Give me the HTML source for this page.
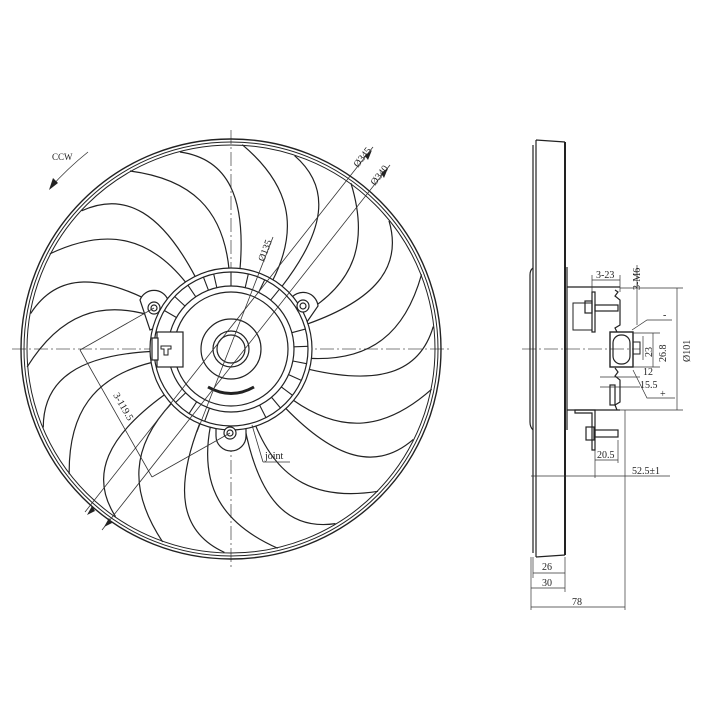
<!DOCTYPE html>
<html><head><style>
html,body{margin:0;padding:0;background:#fff;}
svg{display:block;}
text{font-family:"Liberation Serif",serif;fill:#222;}
</style></head><body>
<svg width="709" height="709" viewBox="0 0 709 709" xmlns="http://www.w3.org/2000/svg">
<rect width="709" height="709" fill="#fff"/>
<!-- centerlines -->
<g stroke="#555" stroke-width="0.8" stroke-dasharray="14,3,2,3" fill="none">
<line x1="12" y1="349" x2="452" y2="349"/>
<line x1="231" y1="130" x2="231" y2="568"/>
<line x1="522" y1="349" x2="640" y2="349"/>
</g>
<!-- rim -->
<g fill="none" stroke="#222">
<circle cx="231" cy="349" r="210" stroke-width="1.4"/>
<circle cx="231" cy="349" r="207" stroke-width="1"/>
<circle cx="231" cy="349" r="204" stroke-width="1"/>
</g>
<!-- blades -->
<g fill="none" stroke="#222" stroke-width="1.2" transform="translate(231,349)">
<g id="bl">
<path d="M9,-80 C15,-150 -2,-190 -51,-197"/>
<path d="M-2,-80 C-8,-140 -40,-170 -101,-178"/>
</g>
<use href="#bl" transform="rotate(32.727)"/>
<use href="#bl" transform="rotate(65.454)"/>
<use href="#bl" transform="rotate(98.181)"/>
<use href="#bl" transform="rotate(130.909)"/>
<use href="#bl" transform="rotate(163.636)"/>
<use href="#bl" transform="rotate(196.363)"/>
<use href="#bl" transform="rotate(229.09)"/>
<use href="#bl" transform="rotate(261.818)"/>
<use href="#bl" transform="rotate(294.545)"/>
<use href="#bl" transform="rotate(327.272)"/>
</g>
<!-- lugs -->
<g stroke="#222" stroke-width="1.2" fill="#fff">
<path d="M140,300 A15,15 0 0 1 168,300 L178,318 L150,330 Z"/>
<path d="M290,300 A15,15 0 0 1 318,306 L300,332 L280,318 Z"/>
<path d="M216,420 L216,436 A15,15 0 0 0 246,436 L246,420 Z"/>
</g>
<!-- hub -->
<g fill="none" stroke="#222" stroke-width="1.2">
<circle cx="231" cy="349" r="81" fill="#fff"/>
<circle cx="231" cy="349" r="77"/>
<circle cx="231" cy="349" r="63"/>
<circle cx="231" cy="349" r="57"/>
<circle cx="231" cy="349" r="30"/>
<circle cx="231" cy="349" r="18"/>
<circle cx="231" cy="349" r="14"/>
<path d="M208,387 Q231,400 254,387" stroke-width="3"/>
</g>
<g stroke="#222" stroke-width="1.1" transform="translate(231,349)">
<g id="rb"><line x1="0" y1="-63" x2="0" y2="-77"/></g>
<use href="#rb" transform="rotate(13)"/><use href="#rb" transform="rotate(26)"/><use href="#rb" transform="rotate(39)"/>
<use href="#rb" transform="rotate(75)"/><use href="#rb" transform="rotate(88)"/><use href="#rb" transform="rotate(101)"/><use href="#rb" transform="rotate(114)"/>
<use href="#rb" transform="rotate(127)"/><use href="#rb" transform="rotate(140)"/><use href="#rb" transform="rotate(153)"/>
<use href="#rb" transform="rotate(200)"/><use href="#rb" transform="rotate(213)"/><use href="#rb" transform="rotate(226)"/>
<use href="#rb" transform="rotate(300)"/><use href="#rb" transform="rotate(313)"/><use href="#rb" transform="rotate(326)"/><use href="#rb" transform="rotate(339)"/><use href="#rb" transform="rotate(-13)"/>
</g>
<g stroke="#222" stroke-width="1.2" fill="#fff">
<circle cx="154" cy="308" r="6"/><circle cx="154" cy="308" r="3"/>
<circle cx="303" cy="306" r="6"/><circle cx="303" cy="306" r="3"/>
<circle cx="230" cy="433" r="6"/><circle cx="230" cy="433" r="3"/>
<rect x="157" y="332" width="26" height="35"/>
<rect x="152" y="338" width="6" height="22"/>
<path d="M161,346 h10 v3 h-3 v6 h-4 v-6 h-3 z" stroke-width="1"/>
</g>
<!-- dims on front -->
<g stroke="#333" stroke-width="0.8" fill="none">
<line x1="373" y1="147" x2="85" y2="512"/>
<line x1="390" y1="165" x2="102" y2="530"/>
<line x1="273" y1="237" x2="197" y2="432"/>
<line x1="154" y1="308" x2="80" y2="350"/>
<line x1="230" y1="433" x2="152" y2="477"/>
<line x1="80" y1="350" x2="152" y2="477"/>
<line x1="252" y1="425" x2="263" y2="462"/><line x1="263" y1="462" x2="290" y2="462"/>
<path d="M88,152 Q68,168 50,188"/>
</g>
<g fill="#222">
<polygon points="49,190 53,178 58,183"/>
<polygon points="87,515 92,506 95,511"/>
<polygon points="104,527 109,518 112,523"/>
<polygon points="372,150 365,156 368,160"/>
<polygon points="388,168 381,173 384,178"/>
</g>
<text x="52" y="160" font-size="9">CCW</text>
<text x="265" y="459" font-size="10">joint</text>
<text font-size="10" transform="translate(358,168) rotate(-52)">Ø345</text>
<text font-size="10" transform="translate(375,186) rotate(-52)">Ø340</text>
<text font-size="10" transform="translate(264,262) rotate(-69)">Ø135</text>
<text font-size="10" transform="translate(113,395) rotate(60)">3-119.5</text>
<!-- side view -->
<g fill="none" stroke="#222" stroke-width="1.2">
<path d="M533,145 L533,553 M536,140 L536,557 M536,140 L565,142 M536,557 L565,555"/>
<line x1="565" y1="142" x2="565" y2="555" stroke-width="2"/>
<path d="M530,275 Q530,270 533,268 M530,275 L530,422 Q530,427 533,430"/>
<line x1="567" y1="267" x2="567" y2="430"/>
<line x1="567" y1="287" x2="620" y2="287"/>
<line x1="567" y1="410" x2="620" y2="410"/>
<path d="M615,290 L618,292 L615,296 L620,300 L620,325 L615,328 L617,332 M615,368 L618,372 L615,376 L620,380 L620,402 L615,405 L617,410"/>
<path d="M573,303 L592,303 L592,330 L573,330 Z" stroke-width="1"/>
<rect x="592" y="292" width="3" height="40"/>
<rect x="595" y="305" width="23" height="6"/>
<rect x="585" y="301" width="7" height="12"/>
<rect x="610" y="332" width="23" height="35" stroke-width="1.4"/>
<rect x="613" y="335" width="17" height="29" rx="8"/>
<rect x="633" y="342" width="7" height="12" stroke-width="1"/>
<path d="M575,410 L595,410 L595,450 L592,450 L592,413 L575,413 Z"/>
<rect x="595" y="430" width="23" height="7"/>
<rect x="586" y="427" width="8" height="13"/>
<rect x="610" y="385" width="5" height="20"/>
</g>
<g stroke="#333" stroke-width="0.7" fill="none">
<line x1="620" y1="288" x2="683" y2="288"/><line x1="620" y1="410" x2="683" y2="410"/>
<line x1="677" y1="288" x2="677" y2="410"/>
<line x1="592" y1="280" x2="620" y2="280"/><line x1="592" y1="275" x2="592" y2="292"/><line x1="620" y1="275" x2="620" y2="292"/>
<line x1="637" y1="265" x2="637" y2="325"/>
<line x1="633" y1="333" x2="660" y2="333"/><line x1="633" y1="367" x2="660" y2="367"/>
<line x1="643" y1="336" x2="643" y2="360"/><line x1="653" y1="333" x2="653" y2="367"/>
<path d="M632,330 L647,320 L672,320 M633,370 L647,398 L675,398"/>
<line x1="600" y1="377" x2="640" y2="377"/><line x1="600" y1="387" x2="640" y2="387"/>
<line x1="595" y1="450" x2="595" y2="478"/><line x1="618" y1="440" x2="618" y2="463"/>
<line x1="595" y1="460" x2="618" y2="460"/>
<line x1="531" y1="476" x2="670" y2="476"/>
<line x1="625" y1="410" x2="625" y2="610"/>
<line x1="531" y1="557" x2="531" y2="610"/><line x1="533" y1="557" x2="533" y2="578"/>
<line x1="533" y1="573" x2="565" y2="573"/><line x1="565" y1="557" x2="565" y2="592"/>
<line x1="531" y1="588" x2="565" y2="588"/>
<line x1="531" y1="607" x2="625" y2="607"/>
</g>
<g font-size="10">
<text x="596" y="278">3-23</text>
<text transform="translate(640,290) rotate(-90)">3-M6</text>
<text transform="translate(690,362) rotate(-90)">Ø101</text>
<text transform="translate(652,357) rotate(-90)">23</text>
<text transform="translate(666,362) rotate(-90)">26.8</text>
<text x="663" y="318">-</text>
<text x="660" y="397">+</text>
<text x="643" y="375">12</text>
<text x="640" y="388">15.5</text>
<text x="597" y="458">20.5</text>
<text x="632" y="474">52.5±1</text>
<text x="542" y="570">26</text>
<text x="542" y="586">30</text>
<text x="572" y="605">78</text>
</g>
</svg>
</body></html>
